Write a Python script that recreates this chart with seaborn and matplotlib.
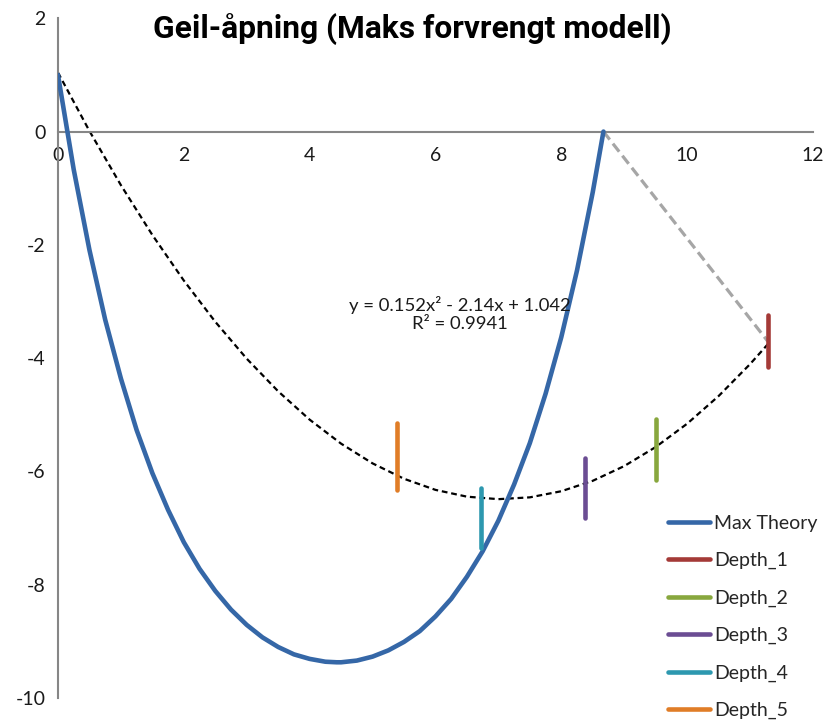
import matplotlib
matplotlib.use("Agg")
import matplotlib.pyplot as plt
from matplotlib import font_manager
import pandas as pd
import seaborn as sns

# ---- values ----
theory_x = [0.0, 0.25, 0.5, 0.75, 1.0, 1.25, 1.5, 1.75, 2.0, 2.25, 2.5, 2.75, 3.0, 3.25, 3.5, 3.75,
            4.0, 4.25, 4.43, 4.5, 4.75, 5.0, 5.25, 5.5, 5.75, 6.0, 6.25, 6.5, 6.75, 7.0, 7.25,
            7.5, 7.75, 8.0, 8.25, 8.5, 8.67]
theory_y = [1.00, -0.67, -2.09, -3.32, -4.36, -5.27, -6.03, -6.68, -7.25, -7.72, -8.11, -8.44,
            -8.71, -8.93, -9.10, -9.23, -9.31, -9.36, -9.37, -9.37, -9.34, -9.27, -9.16, -9.01,
            -8.82, -8.56, -8.25, -7.86, -7.41, -6.87, -6.23, -5.50, -4.63, -3.63, -2.45, -1.07, 0.00]

depth_names = ["Depth_1", "Depth_2", "Depth_3", "Depth_4", "Depth_5"]
depth_x = [11.28, 9.50, 8.38, 6.72, 5.39]
depth_lo = [-4.16, -6.15, -6.83, -7.35, -6.33]
depth_hi = [-3.24, -5.08, -5.77, -6.30, -5.15]

link_x = [8.67, 11.28]
link_y = [0.0, -3.70]

# polynomial trendline as shown on the chart
trend_x = [0.0, 0.5, 1.0, 1.5, 2.0, 2.5, 3.0, 3.5, 4.0, 4.5, 5.0, 5.5, 6.0, 6.5, 7.0,
           7.5, 8.0, 8.5, 9.0, 9.5, 10.0, 10.5, 11.0, 11.3]
trend_y = [1.042, 0.010, -0.946, -1.826, -2.630, -3.358, -4.010, -4.586, -5.086, -5.510, -5.858,
           -6.130, -6.326, -6.446, -6.490, -6.458, -6.350, -6.166, -5.906, -5.570, -5.158, -4.670,
           -4.106, -3.733]
trend_label = "y = 0.152x² - 2.14x + 1.042\nR² = 0.9941"

title = "Geil-åpning (Maks forvrengt modell)"
x_ticks = [0, 2, 4, 6, 8, 10, 12]
y_ticks = [-10, -8, -6, -4, -2, 0, 2]

colors = {
    "Max Theory": "#3567A7",
    "Depth_1": "#A43A37",
    "Depth_2": "#88A73E",
    "Depth_3": "#6B4D93",
    "Depth_4": "#2D98AF",
    "Depth_5": "#E07D27",
}
series_order = ["Max Theory"] + depth_names

# long-form table for seaborn
rows = [("Max Theory", x, y) for x, y in zip(theory_x, theory_y)]
for name, x, lo, hi in zip(depth_names, depth_x, depth_lo, depth_hi):
    rows.append((name, x, lo))
    rows.append((name, x, hi))
df = pd.DataFrame(rows, columns=["series", "x", "y"])

sns.set_theme(style="white")
installed = {f.name for f in font_manager.fontManager.ttflist}
body_font = "Lato" if "Lato" in installed else "DejaVu Sans"
title_font = "Liberation Sans Narrow" if "Liberation Sans Narrow" in installed else "Roboto"
plt.rcParams["font.family"] = [body_font, "DejaVu Sans"]
plt.rcParams["axes.unicode_minus"] = False

fig = plt.figure(figsize=(8.26, 7.2), dpi=100)
ax = fig.add_axes([0.0702, 0.0306, 0.914, 0.944])

# trendline (behind)
ax.plot(trend_x, trend_y, color="black", linewidth=1.6, linestyle=(0, (2.6, 1.7)), zorder=2)

# gray connector
sns.lineplot(x=link_x, y=link_y, color="#A6A6A6", linewidth=2.3, linestyle=(0, (3.2, 1.6)),
             legend=False, ax=ax, zorder=1)

sns.lineplot(data=df, x="x", y="y", hue="series", hue_order=series_order, palette=colors,
             estimator=None, sort=False, linewidth=3.3, solid_capstyle="round",
             solid_joinstyle="round", ax=ax, zorder=3)

ax.text(6.39, -3.22, trend_label, ha="center", va="center", multialignment="center",
        fontsize=13.3, color="#1a1a1a")

ax.set_xlim(0, 12)
ax.set_ylim(-10, 2)
ax.set_xticks(x_ticks)
ax.set_yticks(y_ticks)
ax.set_xlabel("")
ax.set_ylabel("")

for side in ["top", "right"]:
    ax.spines[side].set_visible(False)
ax.spines["bottom"].set_position(("data", 0))
for side in ["left", "bottom"]:
    ax.spines[side].set_color("#868686")
    ax.spines[side].set_linewidth(1.5)
ax.tick_params(axis="both", direction="out", length=5, width=1.5, color="#868686",
               labelsize=14, labelcolor="#1a1a1a", pad=4)
ax.tick_params(axis="x", pad=6)

handles, labels = ax.get_legend_handles_labels()
leg = ax.legend(handles, labels, loc="upper left", bbox_to_anchor=(0.809, 0.285),
                bbox_transform=fig.transFigure, frameon=False, fontsize=14,
                handlelength=2.15, handletextpad=0.2, labelspacing=1.04,
                borderpad=0, borderaxespad=0)
for h in leg.legend_handles:
    h.set_linewidth(3.3)
    h.set_solid_capstyle("round")

t = fig.text(0.499, 0.958, title, ha="center", va="center", fontsize=24, fontweight="bold",
             family=[title_font, "DejaVu Sans"], color="black")
# condensed look: size the title so it spans the same width as the original
fig.canvas.draw()
w = t.get_window_extent().width
t.set_fontsize(min(26, 24 * 520 / w))

fig.savefig("out.png", dpi=100)
